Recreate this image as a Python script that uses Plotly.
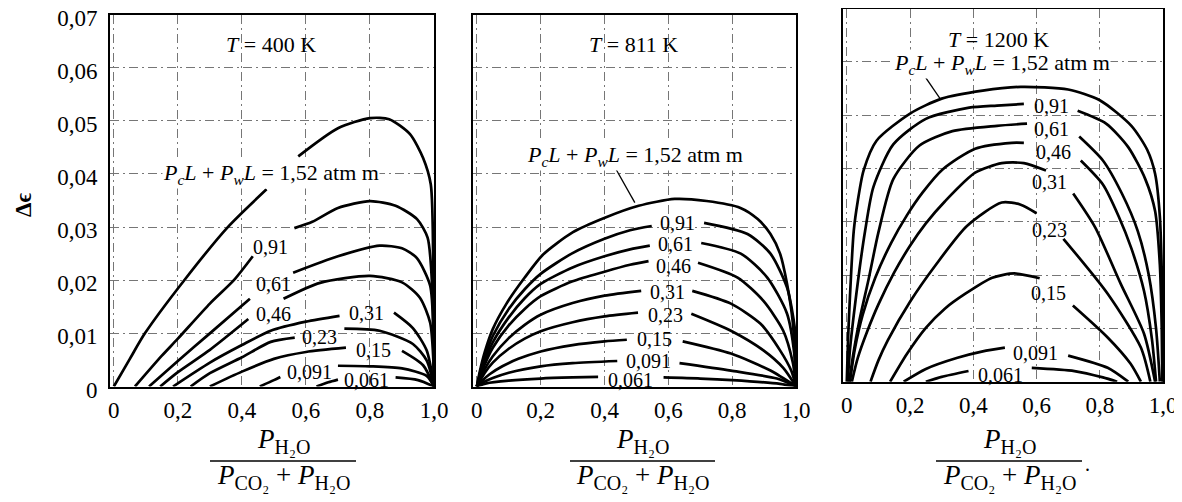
import plotly.graph_objects as go

# ---------------- data ----------------
curve_names = ["1,52", "0,91", "0,61", "0,46", "0,31", "0,23", "0,15", "0,091", "0,061"]

# Panel 1 : T = 400 K   (None = gap where the label sits)
p1_x = [
    [0, 0.05, 0.097, 0.22, 0.356, 0.477, None, 0.576, 0.7, 0.8, 0.86, 0.925, 0.966, 0.99, 0.998, 1.0],
    [0.066, 0.15, 0.2, 0.3, 0.375, 0.434, None, 0.564, 0.62, 0.7, 0.8, 0.88, 0.947, 0.98, 0.995, 1.0],
    [0.11, 0.2, 0.3, 0.425, None, 0.56, 0.7, 0.83, 0.9, 0.946, 0.988, 0.998, 1.0],
    [0.145, 0.2, 0.3, 0.42, None, 0.53, 0.644, 0.8, 0.9, 0.956, 0.988, 0.998, 1.0],
    [0.185, 0.3, 0.4, 0.49, 0.6, 0.705, None, 0.875, 0.934, 0.977, 1.0],
    [0.24, 0.3, 0.4, 0.49, 0.565, None, 0.72, 0.83, 0.934, 0.977, 1.0],
    [0.3, 0.4, 0.5, 0.6, 0.725, None, 0.9, 0.966, 1.0],
    [0.456, 0.5, 0.52, None, 0.7, 0.8, 0.9, 0.977, 1.0],
    [0.633, 0.67, 0.7, None, 0.88, 0.95, 1.0],
]
p1_y = [
    [0, 0.0052, 0.01, 0.02, 0.03, 0.0371, None, 0.0433, 0.0486, 0.0505, 0.0503, 0.0475, 0.043, 0.038, 0.02, 0],
    [0, 0.0058, 0.009, 0.0156, 0.02, 0.0245, None, 0.0298, 0.031, 0.0336, 0.0349, 0.034, 0.0315, 0.028, 0.018, 0],
    [0, 0.0048, 0.01, 0.0165, None, 0.0214, 0.0245, 0.0265, 0.026, 0.0242, 0.019, 0.01, 0],
    [0, 0.0027, 0.0069, 0.0127, None, 0.0165, 0.0195, 0.0208, 0.0196, 0.0167, 0.012, 0.005, 0],
    [0, 0.0045, 0.0078, 0.0105, 0.0122, 0.0133, None, 0.0139, 0.011, 0.0068, 0],
    [0, 0.0025, 0.0055, 0.0084, 0.0092, None, 0.0109, 0.0105, 0.008, 0.0049, 0],
    [0, 0.0028, 0.0052, 0.0065, 0.0073, None, 0.0067, 0.004, 0],
    [0, 0.0012, 0.0018, None, 0.0039, 0.0038, 0.0034, 0.002, 0],
    [0, 0.0008, 0.0013, None, 0.0017, 0.0012, 0],
]

# Panel 2 : T = 811 K
p2_x = [
    [0, 0.01, 0.025, 0.05, 0.093, 0.15, 0.207, 0.3, 0.403, 0.507, 0.62, 0.72, 0.826, 0.88, 0.92, 0.95, 0.972, 0.99, 1.0],
    [0, 0.01, 0.025, 0.05, 0.1, 0.15, 0.2, 0.3, 0.4, 0.48, 0.548, None, 0.712, 0.848, 0.92, 0.972, 0.997, 1.0],
    [0, 0.01, 0.025, 0.05, 0.1, 0.15, 0.2, 0.3, 0.4, 0.48, 0.542, None, 0.703, 0.827, 0.91, 0.972, 0.995, 1.0],
    [0, 0.01, 0.025, 0.05, 0.1, 0.15, 0.2, 0.3, 0.4, 0.48, 0.538, None, 0.693, 0.817, 0.898, 0.96, 0.99, 1.0],
    [0, 0.01, 0.025, 0.05, 0.1, 0.15, 0.2, 0.3, 0.4, 0.515, None, 0.675, 0.796, 0.889, 0.95, 0.985, 1.0],
    [0, 0.01, 0.025, 0.05, 0.1, 0.15, 0.2, 0.3, 0.4, 0.505, None, 0.672, 0.796, 0.898, 0.96, 1.0],
    [0, 0.015, 0.04, 0.08, 0.13, 0.2, 0.3, 0.4, 0.47, None, 0.645, 0.796, 0.92, 1.0],
    [0, 0.02, 0.05, 0.1, 0.2, 0.3, 0.44, None, 0.635, 0.796, 0.94, 1.0],
    [0, 0.03, 0.1, 0.2, 0.3, 0.38, None, 0.585, 0.7, 0.8, 0.95, 1.0],
]
p2_y = [
    [0, 0.003, 0.0065, 0.0108, 0.0156, 0.0205, 0.0248, 0.029, 0.0318, 0.034, 0.0353, 0.0349, 0.0336, 0.0315, 0.0287, 0.025, 0.0193, 0.012, 0],
    [0, 0.0025, 0.0055, 0.0095, 0.0146, 0.0183, 0.0212, 0.0251, 0.0278, 0.0294, 0.0302, None, 0.0308, 0.0287, 0.025, 0.0186, 0.0105, 0],
    [0, 0.002, 0.0048, 0.0083, 0.013, 0.0166, 0.0193, 0.0224, 0.0245, 0.0258, 0.0265, None, 0.027, 0.025, 0.0205, 0.0137, 0.006, 0],
    [0, 0.0018, 0.0042, 0.0073, 0.0115, 0.0146, 0.017, 0.0198, 0.0216, 0.0229, 0.0236, None, 0.0233, 0.0205, 0.0161, 0.0105, 0.0045, 0],
    [0, 0.0014, 0.0033, 0.0057, 0.0091, 0.0116, 0.0135, 0.0157, 0.0171, 0.018, None, 0.018, 0.0156, 0.0118, 0.0068, 0.003, 0],
    [0, 0.0011, 0.0026, 0.0045, 0.0071, 0.009, 0.0104, 0.0121, 0.0132, 0.0139, None, 0.0137, 0.0105, 0.0068, 0.0035, 0],
    [0, 0.001, 0.0023, 0.0038, 0.0052, 0.0066, 0.0078, 0.0085, 0.0088, None, 0.0085, 0.0062, 0.003, 0],
    [0, 0.0008, 0.0016, 0.0026, 0.0038, 0.0044, 0.0048, None, 0.0044, 0.003, 0.0015, 0],
    [0, 0.0006, 0.0011, 0.0015, 0.0017, 0.0018, None, 0.0017, 0.0015, 0.0012, 0.0005, 0],
]

# Panel 3 : T = 1200 K
p3_x = [
    [0, 0.004, 0.01, 0.022, 0.035, 0.053, 0.094, 0.2, 0.3, 0.43, 0.55, 0.7, 0.8, 0.9, 0.95, 0.975, 0.99, 0.998, 1.0],
    [0.003, 0.01, 0.022, 0.04, 0.058, 0.084, 0.147, 0.25, 0.387, 0.475, 0.56, None, 0.73, 0.82, 0.89, 0.944, 0.975, 0.99, 0.996, 0.998],
    [0.008, 0.02, 0.04, 0.07, 0.1, 0.147, 0.23, 0.334, 0.475, 0.57, None, 0.735, 0.81, 0.87, 0.92, 0.955, 0.978, 0.99],
    [0.01, 0.025, 0.05, 0.09, 0.14, 0.19, 0.24, 0.303, 0.406, 0.522, 0.56, None, 0.74, 0.81, 0.86, 0.9, 0.94, 0.965, 0.978],
    [0.016, 0.035, 0.065, 0.1, 0.15, 0.2, 0.25, 0.31, 0.406, 0.49, 0.56, 0.63, None, 0.716, 0.785, 0.866, 0.94, 0.975],
    [0.075, 0.1, 0.13, 0.2, 0.28, 0.38, 0.49, 0.55, 0.6, None, 0.685, 0.825, 0.93, 0.96],
    [0.137, 0.19, 0.25, 0.31, 0.375, 0.46, 0.53, 0.61, None, 0.715, 0.825, 0.897, 0.93],
    [0.18, 0.25, 0.35, 0.43, 0.5, None, 0.7, 0.825, 0.89],
    [0.25, 0.3, 0.385, None, 0.585, 0.72, 0.81, 0.855],
]
p3_y = [
    [0, 0.008, 0.016, 0.0283, 0.034, 0.0396, 0.0452, 0.0503, 0.0531, 0.0546, 0.0553, 0.0548, 0.0528, 0.048, 0.0435, 0.039, 0.031, 0.015, 0],
    [0, 0.006, 0.0125, 0.021, 0.0283, 0.0365, 0.0445, 0.0493, 0.0514, 0.0518, 0.0521, None, 0.0508, 0.0484, 0.044, 0.038, 0.032, 0.022, 0.01, 0],
    [0, 0.005, 0.0115, 0.0195, 0.028, 0.038, 0.0443, 0.047, 0.048, 0.0484, None, 0.046, 0.0415, 0.0353, 0.0283, 0.02, 0.01, 0],
    [0, 0.006, 0.0125, 0.0195, 0.026, 0.0312, 0.0355, 0.0398, 0.0437, 0.0448, 0.0448, None, 0.0415, 0.037, 0.031, 0.025, 0.017, 0.008, 0],
    [0, 0.0045, 0.0095, 0.0145, 0.0205, 0.0255, 0.0297, 0.0338, 0.0392, 0.041, 0.041, 0.0396, None, 0.0353, 0.029, 0.0184, 0.009, 0],
    [0, 0.004, 0.0078, 0.015, 0.0218, 0.0292, 0.0336, 0.0332, 0.0316, None, 0.0268, 0.0165, 0.0064, 0],
    [0, 0.0052, 0.0101, 0.0137, 0.0165, 0.0195, 0.0203, 0.0194, None, 0.0143, 0.0083, 0.0034, 0],
    [0, 0.0024, 0.0045, 0.0057, 0.0064, None, 0.0049, 0.0026, 0],
    [0, 0.0009, 0.002, None, 0.0026, 0.002, 0.0008, 0],
]

temperatures = ["400", "811", "1200"]
x_tickvals = [0, 0.2, 0.4, 0.6, 0.8, 1.0]
x_ticktext = ["0", "0,2", "0,4", "0,6", "0,8", "1,0"]
y_tickvals = [0, 0.01, 0.02, 0.03, 0.04, 0.05, 0.06, 0.07]
y_ticktext = ["0", "0,01", "0,02", "0,03", "0,04", "0,05", "0,06", "0,07"]

# label anchor positions (data units) per panel, order as curve_names
lab1 = [(0.49, 0.040), (0.49, 0.0262), (0.50, 0.0193), (0.50, 0.0137), (0.79, 0.0139),
        (0.642, 0.0094), (0.812, 0.0069), (0.61, 0.0027), (0.79, 0.0013)]
lab2 = [(0.495, 0.0433), (0.628, 0.0307), (0.624, 0.0268), (0.617, 0.0226), (0.597, 0.0178),
        (0.59, 0.0135), (0.558, 0.0089), (0.538, 0.0048), (0.483, 0.0013)]
lab3 = [(0.49, 0.0595), (0.647, 0.0517), (0.647, 0.0474), (0.653, 0.0431), (0.64, 0.0374),
        (0.64, 0.0284), (0.637, 0.0166), (0.598, 0.0054), (0.485, 0.0012)]
title_pos = [(0.49, 0.0643), (0.49, 0.0643), (0.48, 0.0642)]

# ---------------- figure ----------------
# the page body has an 8 px margin: positions below are page pixels, shifted by OFF
OFF = 8
PAGE_W, PAGE_H = 1182, 502
W, H = PAGE_W - OFF, PAGE_H - 2 * OFF
FONT = "Liberation Serif, Times New Roman, DejaVu Serif, serif"
TICK_FS = 23
LAB_FS = 20
BIG_FS = 22
FRAC_FS = 27
SUB_PX = 20


def px_x(p):
    return (p - OFF) / W


def px_y(p):
    return (H - (p - OFF)) / H


def sub(t):
    return f"<sub><span style='font-size:{SUB_PX}px'>{t}</span></sub>"


panels = [(p1_x, p1_y, lab1), (p2_x, p2_y, lab2), (p3_x, p3_y, lab3)]
x_dom_px = [(110, 434), (473, 796), (843, 1163)]
y_dom_px = [(14.5, 386.5), (14.5, 386.5), (8.5, 381.7)]

fig = go.Figure()
for i, (px, py, _) in enumerate(panels):
    xa = "x" if i == 0 else f"x{i+1}"
    ya = "y" if i == 0 else f"y{i+1}"
    for name, xs, ys in zip(curve_names, px, py):
        fig.add_trace(go.Scatter(x=xs, y=ys, mode="lines", xaxis=xa, yaxis=ya,
                                 line=dict(color="black", width=2.7, shape="spline", smoothing=0.7),
                                 connectgaps=False, showlegend=False, hoverinfo="skip", name=name))

grid_style = dict(showgrid=True, gridcolor="#767676", gridwidth=1, griddash="9px,4px,2px,4px",
                  showline=True, linecolor="black", linewidth=2, mirror=True, ticks="",
                  zeroline=False, automargin=False, ticklabeloverflow="allow",
                  tickfont=dict(family=FONT, size=TICK_FS, color="black"))

layout = dict(width=W, height=H, margin=dict(l=0, r=0, t=0, b=0, autoexpand=False),
              paper_bgcolor="white", plot_bgcolor="white", showlegend=False)
for i in range(3):
    k = "" if i == 0 else str(i + 1)
    x0, x1 = x_dom_px[i]
    yt, yb = y_dom_px[i]
    layout["xaxis" + k] = dict(grid_style, domain=[px_x(x0), px_x(x1)], range=[-0.012, 1.0],
                               anchor="y" + k, tickvals=x_tickvals, ticktext=x_ticktext,
                               ticklabelstandoff=2)
    layout["yaxis" + k] = dict(grid_style, domain=[px_y(yb), px_y(yt)], range=[0, 0.07],
                               anchor="x" + k, tickvals=y_tickvals, ticktext=y_ticktext,
                               showticklabels=(i == 0), ticklabelstandoff=6, ticklabelshift=3)
fig.update_layout(**layout)

ann = []
pl_text = "<i>P</i><sub><i>c</i></sub><i>L</i> + <i>P</i><sub><i>w</i></sub><i>L</i> = 1,52 atm m"
for i, (_, _, labs) in enumerate(panels):
    k = "" if i == 0 else str(i + 1)
    for j, (name, (lx, ly)) in enumerate(zip(curve_names, labs)):
        if j == 0:
            ann.append(dict(x=lx, y=ly, xref="x" + k, yref="y" + k, text=pl_text, showarrow=False,
                            xanchor="center", yanchor="middle", bgcolor="white", borderpad=0,
                            font=dict(family=FONT, size=BIG_FS, color="black")))
        else:
            ann.append(dict(x=lx, y=ly, xref="x" + k, yref="y" + k, text=name, showarrow=False,
                            xanchor="center", yanchor="middle", borderpad=0,
                            font=dict(family=FONT, size=LAB_FS, color="black")))
    tx, ty = title_pos[i]
    ann.append(dict(x=tx, y=ty, xref="x" + k, yref="y" + k, text=f"<i>T</i> = {temperatures[i]} K",
                    showarrow=False, xanchor="center", yanchor="middle", borderpad=0,
                    font=dict(family=FONT, size=BIG_FS, color="black")))

# axis titles (fractions)
frac_px = [(210, 356), (570, 715), (936, 1082)]
NB = "\u00a0"
for i, (a, b) in enumerate(frac_px):
    c = (a + b) / 2
    ann.append(dict(x=px_x(c), y=px_y(441), xref="paper", yref="paper", showarrow=False,
                    xanchor="center", yanchor="middle",
                    text="<i>P</i>" + sub("H₂O"), font=dict(family=FONT, size=FRAC_FS, color="black")))
    ann.append(dict(x=px_x(c), y=px_y(477), xref="paper", yref="paper", showarrow=False,
                    xanchor="center", yanchor="middle",
                    text="<i>P</i>" + sub("CO₂") + f"{NB}+{NB}<i>P</i>" + sub("H₂O"),
                    font=dict(family=FONT, size=FRAC_FS, color="black")))
ann.append(dict(x=px_x(1087), y=px_y(464), xref="paper", yref="paper", showarrow=False, text=".",
                xanchor="center", yanchor="middle", font=dict(family=FONT, size=LAB_FS, color="black")))
ann.append(dict(x=px_x(23), y=px_y(205), xref="paper", yref="paper", showarrow=False, text="<b>Δϵ</b>",
                xanchor="center", yanchor="middle",
                textangle=-90, font=dict(family=FONT, size=23, color="black")))
fig.update_layout(annotations=ann)

shapes = []
for a, b in frac_px:
    shapes.append(dict(type="line", xref="paper", yref="paper", x0=px_x(a), x1=px_x(b),
                       y0=px_y(461), y1=px_y(461), line=dict(color="black", width=1.6)))
# leader lines from the 1,52 labels to their curves
shapes.append(dict(type="line", xref="x2", yref="y2", x0=0.433, y0=0.0412, x1=0.495, y1=0.0346,
                   line=dict(color="black", width=1.3)))
shapes.append(dict(type="line", xref="x3", yref="y3", x0=0.25, y0=0.0570, x1=0.294, y1=0.0532,
                   line=dict(color="black", width=1.3)))
fig.update_layout(shapes=shapes)

fig.write_html("out.html")
